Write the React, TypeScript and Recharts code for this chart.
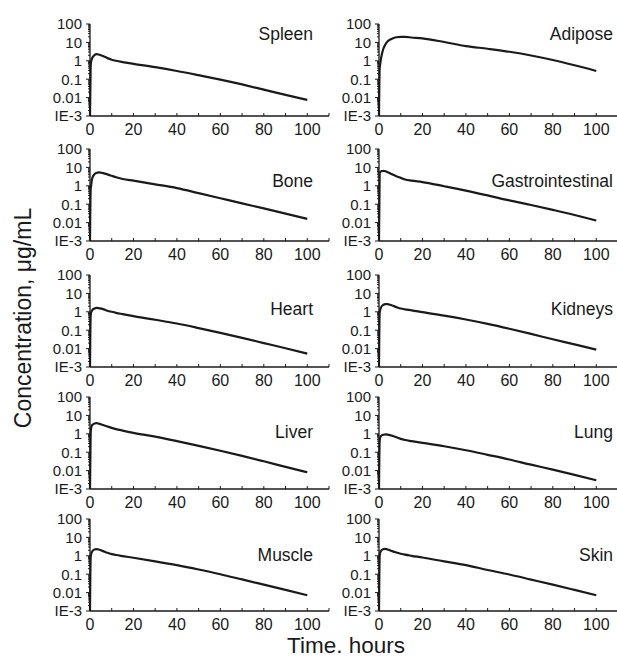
import React from 'react';
import { LineChart, Line, XAxis, YAxis } from 'recharts';

// time points (hours)
const TIME = [0, 0.3, 0.5, 1, 2, 3, 4, 5, 6, 8, 10, 12, 15, 20, 30, 40, 50, 60, 70, 80, 90, 100];

// concentrations, µg/mL
const SPLEEN = [0.001, 0.5, 0.9, 1.4, 2.0, 2.3, 2.2, 2.0, 1.8, 1.4, 1.15, 1.0, 0.85, 0.68, 0.45, 0.28, 0.165, 0.095, 0.052, 0.027, 0.014, 0.0075];
const ADIPOSE = [0.001, 0.4, 0.6, 1.5, 4.5, 8, 11.5, 14, 16, 19, 20, 20, 18.5, 16.5, 10.5, 6.3, 4.5, 3.1, 1.95, 1.1, 0.57, 0.28];
const BONE = [0.001, 0.6, 1.0, 2.5, 4.2, 5.0, 5.3, 5.2, 4.9, 4.2, 3.5, 2.9, 2.35, 1.9, 1.2, 0.75, 0.4, 0.21, 0.11, 0.059, 0.031, 0.016];
const GASTRO = [0.001, 5.0, 5.5, 6.2, 6.5, 6.2, 5.5, 4.8, 4.2, 3.3, 2.7, 2.2, 1.9, 1.6, 0.95, 0.55, 0.3, 0.16, 0.09, 0.049, 0.026, 0.013];
const HEART = [0.001, 0.6, 0.9, 1.2, 1.5, 1.65, 1.6, 1.5, 1.4, 1.15, 1.0, 0.88, 0.75, 0.58, 0.37, 0.23, 0.13, 0.071, 0.038, 0.02, 0.0105, 0.0053];
const KIDNEYS = [0.001, 0.9, 1.2, 1.8, 2.4, 2.6, 2.6, 2.4, 2.2, 1.8, 1.5, 1.35, 1.2, 0.95, 0.62, 0.38, 0.22, 0.12, 0.063, 0.032, 0.017, 0.0088];
const LIVER = [0.001, 1.0, 2.0, 3.0, 3.6, 3.8, 3.6, 3.3, 3.0, 2.5, 2.1, 1.8, 1.5, 1.13, 0.7, 0.4, 0.22, 0.12, 0.063, 0.032, 0.016, 0.0081];
const LUNG = [0.001, 0.4, 0.6, 0.78, 0.88, 0.92, 0.9, 0.85, 0.78, 0.65, 0.53, 0.46, 0.4, 0.32, 0.21, 0.128, 0.072, 0.04, 0.021, 0.0114, 0.0059, 0.003];
const MUSCLE = [0.001, 0.8, 1.2, 1.7, 2.2, 2.3, 2.2, 2.0, 1.8, 1.45, 1.23, 1.1, 0.96, 0.78, 0.5, 0.31, 0.18, 0.1, 0.052, 0.027, 0.014, 0.0072];
const SKIN = [0.001, 1.0, 1.4, 1.9, 2.3, 2.35, 2.2, 2.0, 1.8, 1.5, 1.3, 1.15, 1.0, 0.81, 0.5, 0.31, 0.17, 0.096, 0.051, 0.027, 0.014, 0.0072];

const PANEL_NAMES = ['Spleen', 'Adipose', 'Bone', 'Gastrointestinal', 'Heart', 'Kidneys', 'Liver', 'Lung', 'Muscle', 'Skin'];
const PANEL_VALUES = [SPLEEN, ADIPOSE, BONE, GASTRO, HEART, KIDNEYS, LIVER, LUNG, MUSCLE, SKIN];

const X_TICKS = [0, 10, 20, 30, 40, 50, 60, 70, 80, 90, 100, 110];
const X_LABELED = [0, 20, 40, 60, 80, 100];
const Y_MAJOR = [0.001, 0.01, 0.1, 1, 10, 100];
const Y_LABELS = ['IE-3', '0.01', '0.1', '1', '10', '100'];
const MINOR_MULT = [2, 3, 4, 5, 6, 7, 8, 9];
const Y_TICKS = [
  ...Y_MAJOR,
  ...Y_MAJOR.slice(0, 5).flatMap((d) => MINOR_MULT.map((m) => d * m)),
].sort((a, b) => a - b);

const PLOT_LEFT = [90, 379];
const PLOT_TOP = [24, 149, 275, 397, 519];
const TITLE_BASELINE = [40, 187, 315, 438, 561];
const TITLE_RIGHT = [313, 613];

const TOP_PAD = 14;
const INK = '#1a1a1a';
const FONT = '"Liberation Sans", Arial, Helvetica, sans-serif';

const XTick = (props: any) => {
  const { x, y, payload } = props;
  const axisY = y - 7;
  const v = payload.value;
  const labeled = X_LABELED.includes(v);
  return (
    <g>
      <line x1={x} x2={x} y1={axisY} y2={axisY - 3} stroke={INK} strokeWidth={1} />
      {labeled && (
        <text x={x} y={axisY + 19} textAnchor="middle" fontSize={16} fill={INK} fontFamily={FONT}>
          {String(v)}
        </text>
      )}
    </g>
  );
};

const YTick = (props: any) => {
  const { x, y, payload } = props;
  const axisX = x + 8;
  const v = payload.value;
  const idx = Y_MAJOR.findIndex((m) => Math.abs(m - v) / m < 1e-6);
  const major = idx >= 0;
  return (
    <g>
      <line x1={axisX} x2={axisX - (major ? 4 : 2)} y1={y} y2={y} stroke={INK} strokeWidth={1} />
      {major && (
        <text x={axisX - 8} y={y} dy="0.36em" textAnchor="end" fontSize={15} fill={INK} fontFamily={FONT}>
          {Y_LABELS[idx]}
        </text>
      )}
    </g>
  );
};

const Panel = ({ values, left, top }: { values: number[]; left: number; top: number }) => {
  const data = TIME.map((t, i) => ({ t, c: values[i] }));
  return (
    <div style={{ position: 'absolute', left: left - 60, top: top - TOP_PAD }}>
      <LineChart
        width={301}
        height={92 + 24 + TOP_PAD}
        data={data}
        margin={{ top: TOP_PAD, right: 2, left: 0, bottom: 0 }}
      >
        <XAxis
          dataKey="t"
          type="number"
          domain={[0, 110]}
          ticks={X_TICKS}
          interval={0}
          height={24}
          tickSize={4}
          tickMargin={3}
          tickLine={false}
          axisLine={{ stroke: INK, strokeWidth: 1.3 }}
          tick={<XTick />}
        />
        <YAxis
          type="number"
          scale="log"
          domain={[0.001, 100]}
          allowDataOverflow
          ticks={Y_TICKS}
          interval={0}
          width={60}
          tickSize={5}
          tickMargin={3}
          tickLine={false}
          axisLine={{ stroke: INK, strokeWidth: 1.3 }}
          tick={<YTick />}
        />
        <Line
          type="monotone"
          dataKey="c"
          stroke={INK}
          strokeWidth={2.2}
          dot={false}
          isAnimationActive={false}
        />
      </LineChart>
    </div>
  );
};

export default function App() {
  return (
    <div
      style={{
        position: 'absolute',
        left: 0,
        top: 0,
        width: 617,
        height: 659,
        overflow: 'hidden',
        background: '#fff',
        fontFamily: FONT,
      }}
    >
      {PANEL_NAMES.map((name, i) => {
        const col = i % 2;
        const row = Math.floor(i / 2);
        return (
          <Panel key={name} values={PANEL_VALUES[i]} left={PLOT_LEFT[col]} top={PLOT_TOP[row]} />
        );
      })}
      <svg
        width={617}
        height={659}
        style={{ position: 'absolute', left: 0, top: 0, pointerEvents: 'none' }}
      >
        {PANEL_NAMES.map((name, i) => {
          const col = i % 2;
          const row = Math.floor(i / 2);
          return (
            <text
              key={name}
              x={TITLE_RIGHT[col]}
              y={TITLE_BASELINE[row]}
              textAnchor="end"
              fontSize={17.5}
              fill={INK}
              fontFamily={FONT}
            >
              {name}
            </text>
          );
        })}
        <text
          x={31}
          y={318}
          transform="rotate(-90 31 318)"
          textAnchor="middle"
          fontSize={23}
          fill={INK}
          fontFamily={FONT}
        >
          Concentration, μg/mL
        </text>
        <text x={346} y={653} textAnchor="middle" fontSize={22.5} fill={INK} fontFamily={FONT}>
          Time. hours
        </text>
      </svg>
    </div>
  );
}
